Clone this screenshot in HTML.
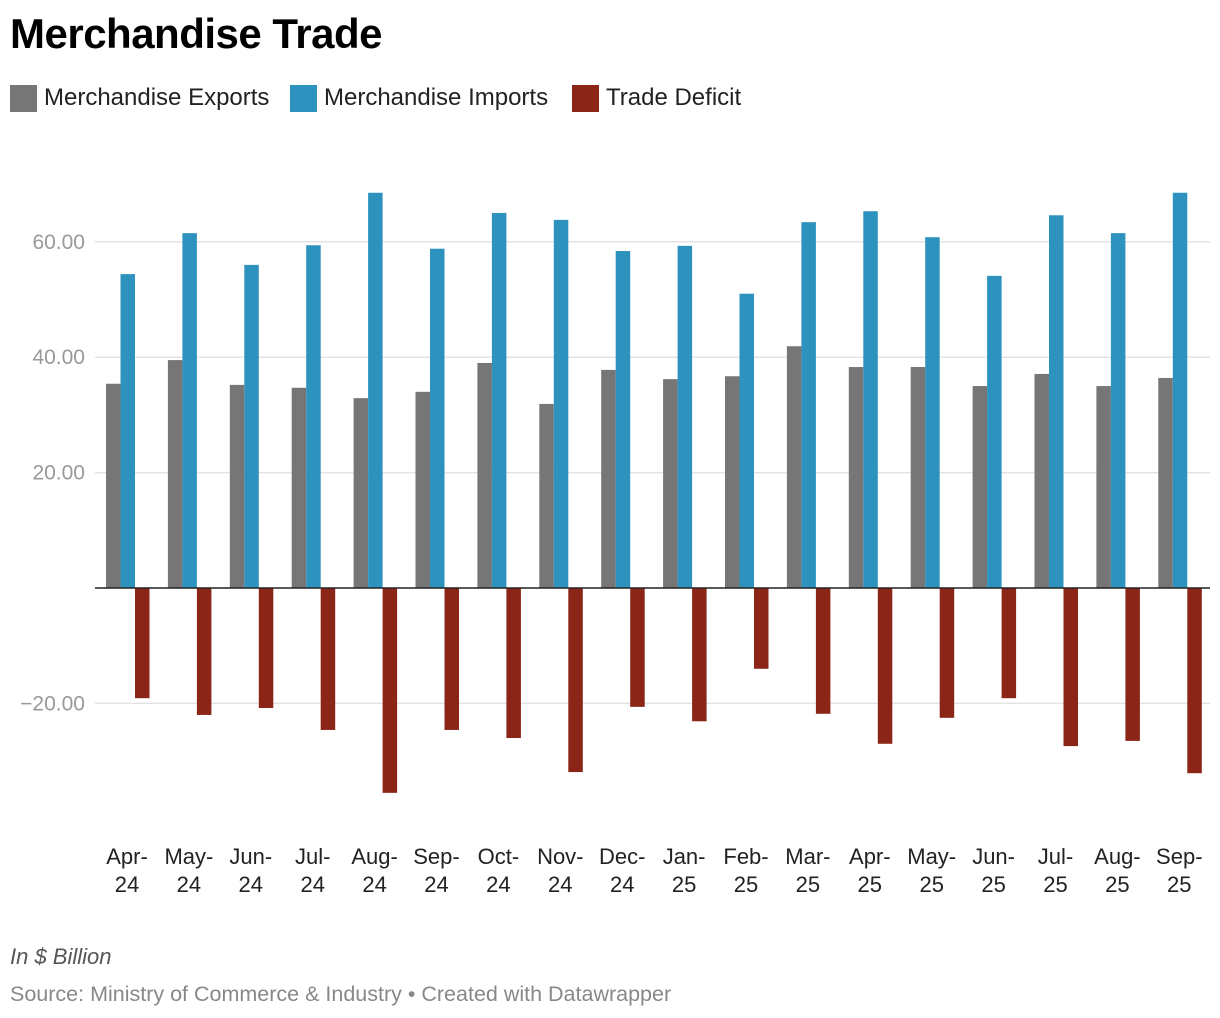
<!DOCTYPE html>
<html><head><meta charset="utf-8"><style>
body{margin:0;background:#fff;font-family:"Liberation Sans",sans-serif;}
#wrap{position:relative;width:1220px;height:1018px;overflow:hidden;}
.t{position:absolute;white-space:nowrap;}
</style></head><body>
<div id="wrap">
<div class="t" style="left:10px;top:10px;font-size:42px;font-weight:bold;color:#000;letter-spacing:-0.5px">Merchandise Trade</div>
<div>
<div class="t" style="left:10px;top:85px;width:27px;height:27px;background:#767676"></div>
<div class="t" style="left:44px;top:84px;font-size:24px;color:#222">Merchandise Exports</div>
<div class="t" style="left:290px;top:85px;width:27px;height:27px;background:#2e92be"></div>
<div class="t" style="left:324px;top:84px;font-size:24px;color:#222">Merchandise Imports</div>
<div class="t" style="left:572px;top:85px;width:27px;height:27px;background:#8a2518"></div>
<div class="t" style="left:606px;top:84px;font-size:24px;color:#222">Trade Deficit</div>
</div>
<svg id="chart" width="1220" height="1018" style="position:absolute;left:0;top:0"></svg>
<div class="t" style="left:10px;top:944px;font-size:22px;font-style:italic;color:#555">In $ Billion</div>
<div class="t" style="left:10px;top:982px;font-size:21.5px;color:#888">Source: Ministry of Commerce &amp; Industry • Created with Datawrapper</div>
</div>
<script>
const categories=[["Apr-","24"],["May-","24"],["Jun-","24"],["Jul-","24"],["Aug-","24"],["Sep-","24"],["Oct-","24"],["Nov-","24"],["Dec-","24"],["Jan-","25"],["Feb-","25"],["Mar-","25"],["Apr-","25"],["May-","25"],["Jun-","25"],["Jul-","25"],["Aug-","25"],["Sep-","25"]];
const exportsVals=[35.4,39.5,35.2,34.7,32.9,34.0,39.0,31.9,37.8,36.2,36.7,41.9,38.3,38.3,35.0,37.1,35.0,36.4];
const importsVals=[54.4,61.5,56.0,59.4,68.5,58.8,65.0,63.8,58.4,59.3,51.0,63.4,65.3,60.8,54.1,64.6,61.5,68.5];
const deficitVals=[-19.1,-22.0,-20.8,-24.6,-35.5,-24.6,-26.0,-31.9,-20.6,-23.1,-14.0,-21.8,-27.0,-22.5,-19.1,-27.4,-26.5,-32.1];
const yTicks=[60,40,20,-20];
const yTickLabels=["60.00","40.00","20.00","\u221220.00"];
const svg=document.getElementById('chart');
const NS="http://www.w3.org/2000/svg";
const y0=588, ppu=5.77, x0=95, x1=1210, cx0=127.5, step=61.9, bw=14.5;
const y=v=>y0-v*ppu;
const xc=i=>cx0+i*step;
function mk(tag,attrs){const e=document.createElementNS(NS,tag);for(const k in attrs)e.setAttribute(k,attrs[k]);svg.appendChild(e);return e;}
yTicks.forEach((t,i)=>{
 const l=mk('line',{x1:x0,x2:x1,y1:y(t),y2:y(t),stroke:'#e3e3e3','stroke-width':1.5});
 
 
 const tx=mk('text',{x:85,y:y(t)+7,'text-anchor':'end','font-size':21,fill:'#999','font-family':'Liberation Sans, sans-serif'});
 tx.textContent=yTickLabels[i];
 
 
});
const series=[[exportsVals,'#767676',-21.5,'bar-export'],[importsVals,'#2e92be',-7,'bar-import'],[deficitVals,'#8a2518',7.5,'bar-deficit']];
series.forEach(([vals,col,off,name])=>{
 vals.forEach((v,i)=>{
  const top=Math.min(y(v),y0),h=Math.abs(y(v)-y0);
  const r=mk('rect',{x:xc(i)+off,y:top,width:bw,height:h,fill:col});
  
  
 });
});
const z=mk('line',{x1:x0,x2:x1,y1:y0,y2:y0,stroke:'#222','stroke-width':1.5});


categories.forEach((c,i)=>{
 c.forEach((s,j)=>{
  const tx=mk('text',{x:xc(i)-0.5,y:864+j*28,'text-anchor':'middle','font-size':22,fill:'#222','font-family':'Liberation Sans, sans-serif'});
  tx.textContent=s;
  
  
 });
});
</script>
</body></html>
